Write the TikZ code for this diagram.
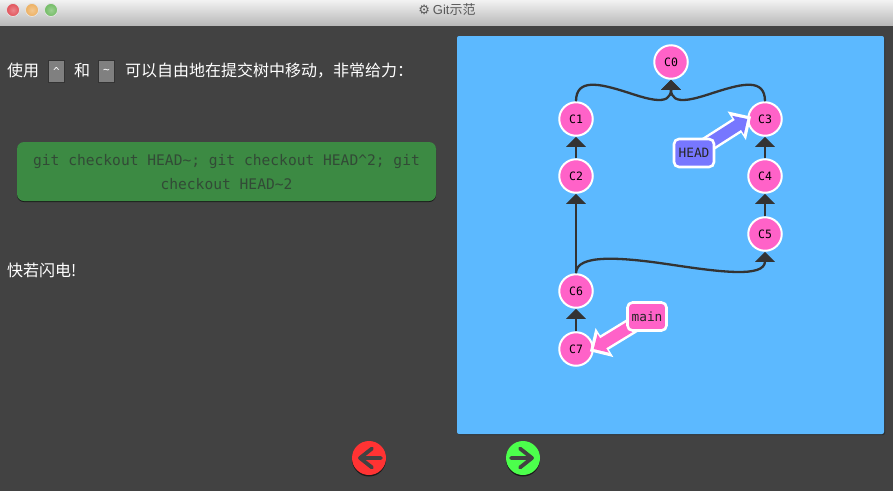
\documentclass[tikz,border=0pt]{standalone}
\usepackage{fontspec}
\setmainfont{Noto Sans CJK SC}
\setsansfont{Liberation Sans}
\setmonofont{DejaVu Sans Mono}
\newfontfamily\gearfont{DejaVu Sans}
\usetikzlibrary{calc,positioning,arrows.meta,shadows}
\definecolor{bgdark}{HTML}{424242}
\definecolor{panelblue}{HTML}{5CB9FF}
\definecolor{commitpink}{HTML}{FF62C8}
\definecolor{headblue}{HTML}{7777FF}
\definecolor{linkdark}{HTML}{333333}
\definecolor{cmdgreen}{HTML}{3C8A43}
\definecolor{cmdtext}{HTML}{324A36}
\definecolor{keygrey}{HTML}{808080}
\definecolor{lightred}{HTML}{E2525A}
\definecolor{lightorange}{HTML}{EDB061}
\definecolor{lightgreen}{HTML}{72BC64}
\tikzset{
  commit/.style={circle,fill=commitpink,draw=white,line width=2pt,minimum size=33.5pt,inner sep=0pt,font=\ttfamily\fontsize{11.5}{12}\selectfont,text=black},
  tagbox/.style={rounded corners=5pt,fill=#1,draw=white,line width=2.6pt,inner sep=0pt,minimum height=28pt,font=\ttfamily\fontsize{12.8}{13}\selectfont,text=black!85},
  link/.style={-{Triangle[length=10pt,width=19pt]},linkdark,line width=2.3pt},
  tagwhite/.style={-{Triangle[length=17pt,width=33pt]},white,line width=16.5pt,shorten >=-4.5pt},
  tagfill/.style={-{Triangle[length=11pt,width=21pt]},#1,line width=11.5pt,shorten >=0pt},
  lefttext/.style={anchor=west,inner sep=0pt,text=white,font=\fontsize{16}{20}\selectfont},
  keybox/.style={fill=keygrey,draw=linkdark,line width=1pt,minimum width=16.5pt,minimum height=22.5pt,inner sep=0pt,text=white,font=\ttfamily\fontsize{11}{12}\selectfont},
  lightbtn/.style={circle,inner sep=0pt,minimum size=13pt,draw=white!80!gray,line width=.7pt,inner color=#1!70!white,outer color=#1},
  navbtn/.style={circle,fill=#1,inner sep=0pt,minimum size=34pt,drop shadow={shadow xshift=0pt,shadow yshift=-1.5pt,opacity=.6,fill=black}},
  navglyph/.style={bgdark,line width=3.8pt,line cap=round,line join=round},
}
\begin{document}
\begin{tikzpicture}[x=1pt,y=-1pt]
\useasboundingbox (0,0) rectangle (893,491);
\fill[bgdark] (0,0) rectangle (893,491);
\shade[top color=white!90!gray,bottom color=gray!55!white] (0,0) rectangle (893,25);
\node[lightbtn=lightred] (lred) at (13,10) {};
\node[lightbtn=lightorange] (lorange) at (32,10) {};
\node[lightbtn=lightgreen] (lgreen) at (51,10) {};
\node[inner sep=0pt,text=black!65,font=\fontsize{13}{15}\selectfont] (title) at (447,10) {{\gearfont ⚙} \textsf{Git}示范};

\node[lefttext] (t1) at (7,70.5) {使用};
\node[keybox] (k1) at (56.5,71.5) {\textasciicircum};
\node[lefttext] (t2) at (74,70.5) {和};
\node[keybox] (k2) at (106.5,71.5) {\textasciitilde};
\node[lefttext] (t3) at (125,70.5) {可以自由地在提交树中移动，非常给力：};
\node[rounded corners=7pt,fill=cmdgreen,minimum width=419pt,minimum height=59pt,inner sep=0pt,align=center,text=cmdtext,font=\ttfamily\fontsize{14.6}{24}\selectfont,drop shadow={shadow xshift=0pt,shadow yshift=-1pt,opacity=.6,fill=black}] (cmd) at (226.5,171.5) {\rule{0pt}{13pt}git checkout HEAD\textasciitilde; git checkout HEAD\textasciicircum 2; git\\checkout HEAD\textasciitilde 2};
\node[lefttext] (t4) at (7,270.5) {快若闪电!};

\node[fill=panelblue,rounded corners=2pt,minimum width=427pt,minimum height=398pt,inner sep=0pt,drop shadow={shadow xshift=1pt,shadow yshift=-1pt,opacity=.3,fill=black}] (panel) at (670.5,235) {};

\node[commit] (c0) at (671,62) {C0};
\node[commit] (c1) at (576,119) {C1};
\node[commit] (c2) at (576,176) {C2};
\node[commit] (c3) at (765,119) {C3};
\node[commit] (c4) at (765,176) {C4};
\node[commit] (c5) at (765,234) {C5};
\node[commit] (c6) at (576,291) {C6};
\node[commit] (c7) at (576,349) {C7};

\draw[link] (c1.north) .. controls (576,78) and (600,84) .. (623,91) .. controls (645,98) and (671,108) .. (c0.south);
\draw[link] (c3.north) .. controls (765,78) and (742,84) .. (719,91) .. controls (697,98) and (671,108) .. (c0.south);
\draw[link] (c2) -- (c1);
\draw[link] (c4) -- (c3);
\draw[link] (c5) -- (c4);
\draw[link] (c6) -- (c2);
\draw[link] (c7) -- (c6);
\draw[link] (c6.north) .. controls (576,254) and (620,257) .. (670,264.5) .. controls (720,272) and (765,278) .. (c5.south);

\coordinate (headmid) at (694,153);
\coordinate (mainmid) at (647,316.5);
\draw[tagwhite] (headmid) -- (c3.west);
\draw[tagfill=headblue] (headmid) -- (c3.west);
\draw[tagwhite] (mainmid) -- (c7.east);
\draw[tagfill=commitpink] (mainmid) -- (c7.east);
\node[tagbox=headblue,minimum width=40pt] (head) at (headmid) {HEAD};
\node[tagbox=commitpink,minimum width=39pt] (main) at (mainmid) {main};

\node[navbtn={red!80!white}] (prev) at (369,458) {};
\node[navbtn={green!70!white}] (next) at (523,458) {};
\draw[navglyph] (prev.center) ++(12,0) -- ++(-21,0) ++(12,-9.5) -- ++(-12,9.5) -- ++(12,9.5);
\draw[navglyph] (next.center) ++(-12,0) -- ++(21,0) ++(-12,-9.5) -- ++(12,9.5) -- ++(-12,9.5);
\end{tikzpicture}
\end{document}
